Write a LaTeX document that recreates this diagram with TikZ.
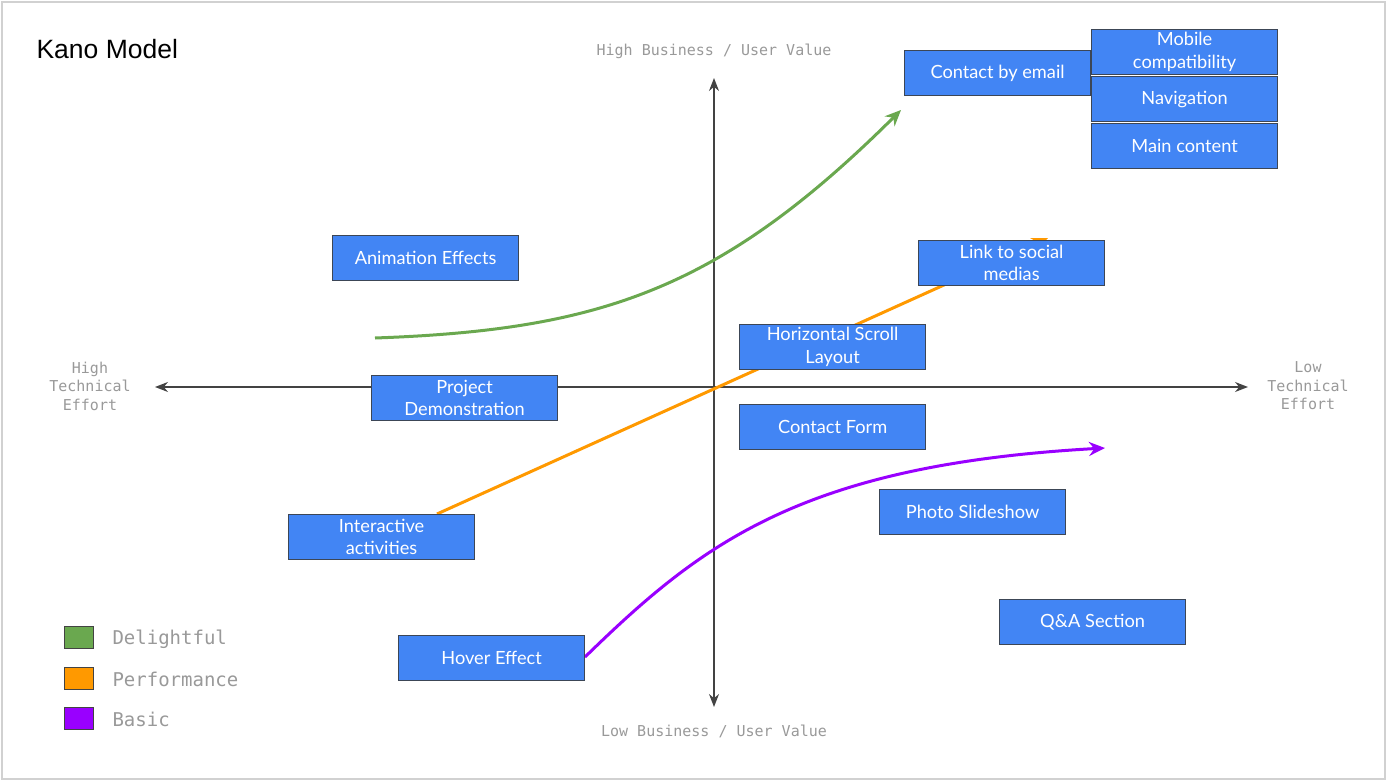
\documentclass[tikz,border=0pt]{standalone}
\usepackage{fontspec}
\setmainfont{Lato}
\newfontfamily\titlefont{Liberation Sans}
\newfontfamily\monofont{DejaVu Sans Mono}
\usetikzlibrary{arrows.meta}
\definecolor{boxblue}{HTML}{4285F4}
\definecolor{boxedge}{HTML}{3C4656}
\definecolor{delight}{HTML}{6AA84F}
\definecolor{perf}{HTML}{FF9900}
\definecolor{basic}{HTML}{9900FF}
\definecolor{axisgray}{HTML}{999999}
\definecolor{axisline}{HTML}{434343}
\tikzset{
  feature/.style={draw=boxedge, line width=1.2pt, fill=boxblue, text=white,
    minimum width=186pt, minimum height=45pt, inner sep=1pt,
    align=center, font=\fontsize{18.2}{22.5}\selectfont, anchor=north west},
  axislabel/.style={text=axisgray, font=\monofont\fontsize{15}{18.5}\selectfont, align=center},
  legendbox/.style={draw=axisline, line width=1pt, minimum width=29pt, minimum height=22pt, inner sep=0pt, anchor=north west},
  legendtext/.style={text=axisgray, font=\monofont\fontsize{19}{22}\selectfont, anchor=west},
  curve/.style={line width=3pt, -{Stealth[length=16pt,width=14pt]}},
  axis/.style={draw=axisline, line width=1.3pt, {Stealth[length=13pt,width=10pt]}-{Stealth[length=13pt,width=10pt]}}
}
\begin{document}
\begin{tikzpicture}[x=1pt,y=-1pt]
\useasboundingbox (0,0) rectangle (1387,781);
\draw[draw=black!18, line width=1.5pt] (2,2) rectangle (1385,779);

\node[anchor=west, font=\titlefont\fontsize{26.5}{30}\selectfont] (title) at (33,49) {Kano Model};

% axes
\coordinate (top) at (714,78);
\coordinate (bot) at (714,707);
\coordinate (lft) at (155,387);
\coordinate (rgt) at (1248,387);
\draw[axis] (top) -- (bot);
\draw[axis] (lft) -- (rgt);

\node[axislabel] (hv) at (714,51) {High Business / User Value};
\node[axislabel] (lv) at (714,731) {Low Business / User Value};
\node[axislabel] (ht) at (90,386) {High\\Technical\\Effort};
\node[axislabel] (lt) at (1308,386) {Low\\Technical\\Effort};

% curves
\coordinate (g0) at (375,338);
\coordinate (g1) at (901,110);
\draw[curve, delight] (g0) .. controls (600,330) and (720,290) .. (g1);
\coordinate (o0) at (437,514);
\coordinate (o1) at (1048,238);
\draw[curve, perf] (o0) -- (o1);
\coordinate (p0) at (585,657);
\coordinate (p1) at (1105,448);
\draw[curve, basic] (p0) .. controls (700,545) and (800,465) .. (p1);

% features
\node[feature] (email) at (904,50) {Contact by email};
\node[feature] (mobile) at (1091,29) {Mobile\\compatibility};
\node[feature] (nav) at (1091,76) {Navigation};
\node[feature] (main) at (1091,123) {Main content};
\node[feature] (anim) at (332,235) {Animation Effects};
\node[feature] (social) at (918,240) {Link to social\\medias};
\node[feature] (scroll) at (739,324) {Horizontal Scroll\\Layout};
\node[feature] (proj) at (371,375) {Project\\Demonstration};
\node[feature] (form) at (739,404) {Contact Form};
\node[feature] (inter) at (288,514) {Interactive\\activities};
\node[feature] (photo) at (879,489) {Photo Slideshow};
\node[feature] (qa) at (999,599) {Q\&A Section};
\node[feature] (hover) at (398,635) {Hover Effect};

% legend
\node[legendbox, fill=delight] (lg) at (64,626) {};
\node[legendbox, fill=perf] (lo) at (64,667) {};
\node[legendbox, fill=basic] (lb) at (64,707) {};
\node[legendtext] (tg) at (109,639) {Delightful};
\node[legendtext] (to) at (109,679) {Performance};
\node[legendtext] (tb) at (109,719) {Basic};
\end{tikzpicture}
\end{document}
